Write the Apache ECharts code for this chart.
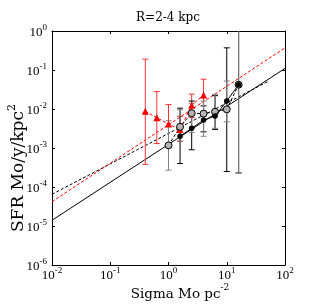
<!DOCTYPE html>
<html><head><meta charset="utf-8">
<script src="https://cdn.jsdelivr.net/npm/echarts@6/dist/echarts.min.js"></script>
<style>html,body{margin:0;padding:0;background:#fff}#c{width:327px;height:307px}</style>
</head><body><div id="c"></div>
<script>
// ---- data ----
const titleText = 'R=2-4 kpc';
const xTickExp = [-2, -1, 0, 1, 2];
const yTickExp = [-6, -5, -4, -3, -2, -1, 0];

const xRed    = [0.4, 0.63, 1.0, 1.58, 2.5, 4.0];
const yRed    = [0.0087, 0.0060, 0.0041, 0.0030, 0.0125, 0.023];
const lowRed  = [3.8e-4, 1.3e-3, 1.2e-3, 1.5e-3, 6.0e-3, 8.0e-3];
const highRed = [0.19, 0.028, 0.013, 0.0065, 0.024, 0.058];

const xBlack    = [1.58, 2.5, 4.0, 6.3, 10, 16];
const yBlack    = [0.0020, 0.0032, 0.0052, 0.0066, 0.016, 0.042];
const lowBlack  = [4.0e-4, 9.0e-4, 2.6e-3, 3.0e-3, 2.5e-4, 2.3e-4];
const highBlack = [0.0105, 0.016, 0.012, 0.022, 0.37, 2];

const xGray    = [1.0, 1.58, 2.5, 4.0, 6.3, 10, 16];
const yGray    = [0.00117, 0.0035, 0.0078, 0.0076, 0.0085, 0.0098, 0.042];
const lowGray  = [2.7e-4, 1.5e-3, 2.5e-3, 2.0e-3, 3.2e-3, 4.7e-3, 2.3e-4];
const highGray = [0.005, 0.0095, 0.014, 0.016, 0.024, 0.052, 2];

const fitSolidX = [0.01, 100];
const fitSolidY = [1.4e-5, 0.11];
const fitDashBlackX = [0.01, 50];
const fitDashBlackY = [6.5e-5, 0.05];
const fitDashRedX = [0.01, 100];
const fitDashRedY = [4.2e-5, 0.37];

// ---- helpers ----
function pairs(xs, ys) { return xs.map((x, i) => [x, ys[i]]); }
function bars(xs, lo, hi) { return xs.map((x, i) => [x, lo[i], hi[i]]); }

const serif = '"DejaVu Serif", serif';
const tickFont = '"Liberation Serif", serif';
const rich = {
  b: { fontFamily: tickFont, fontSize: 13, lineHeight: 16, verticalAlign: 'bottom', color: '#000' },
  s: { fontFamily: tickFont, fontSize: 9, lineHeight: 8, verticalAlign: 'top', color: '#000' }
};
function expLabel(v) { const e = Math.round(Math.log10(v)); return '{b|10}{s|' + e + '}'; }

function errRender(color, cap) {
  return function (params, api) {
    const x = api.value(0), lo = api.value(1), hi = api.value(2);
    const p1 = api.coord([x, lo]), p2 = api.coord([x, hi]);
    const cs = params.coordSys;
    const top = cs.y, bot = cs.y + cs.height;
    const yHi = Math.max(p2[1], top), yLo = Math.min(p1[1], bot);
    const st = { stroke: color, lineWidth: 1 };
    const ch = [{ type: 'line', shape: { x1: p1[0], y1: yLo, x2: p1[0], y2: yHi }, style: st }];
    if (p2[1] >= top) ch.push({ type: 'line', shape: { x1: p1[0] - cap, y1: p2[1], x2: p1[0] + cap, y2: p2[1] }, style: st });
    if (p1[1] <= bot) ch.push({ type: 'line', shape: { x1: p1[0] - cap, y1: p1[1], x2: p1[0] + cap, y2: p1[1] }, style: st });
    return { type: 'group', children: ch };
  };
}

function axisCommon(extra) {
  return Object.assign({
    type: 'log', logBase: 10, interval: 1,
    axisLine: { show: true, onZero: false, lineStyle: { color: '#000', width: 1 } },
    axisTick: { show: true, inside: true, length: 3, lineStyle: { color: '#000' } },
    minorTick: { show: false },
    splitLine: { show: false }
  }, extra);
}

const chart = echarts.init(document.getElementById('c'));
chart.setOption({
  animation: false,
  backgroundColor: '#fff',
  title: {
    text: titleText, left: 168, top: 12, textAlign: 'center', padding: 0,
    textStyle: { fontFamily: serif, fontSize: 12, fontWeight: 'normal', color: '#000' }
  },
  grid: { left: 52, right: 42, top: 31, bottom: 42, containLabel: false },
  xAxis: [
    axisCommon({ min: Math.pow(10, xTickExp[0]), max: Math.pow(10, xTickExp[xTickExp.length - 1]), position: 'bottom',
      axisLabel: { formatter: expLabel, rich: rich, margin: 1 } }),
    axisCommon({ min: Math.pow(10, xTickExp[0]), max: Math.pow(10, xTickExp[xTickExp.length - 1]), position: 'top',
      axisLabel: { show: false } })
  ],
  yAxis: [
    axisCommon({ min: Math.pow(10, yTickExp[0]), max: Math.pow(10, yTickExp[yTickExp.length - 1]), position: 'left',
      axisLabel: { formatter: expLabel, rich: rich, margin: 5 } }),
    axisCommon({ min: Math.pow(10, yTickExp[0]), max: Math.pow(10, yTickExp[yTickExp.length - 1]), position: 'right',
      axisLabel: { show: false } })
  ],
  graphic: [
    { type: 'text', position: [180, 292], style: {
        text: '{a|Sigma Mo pc}{s|-2}', x: 0, y: 0, align: 'center', verticalAlign: 'middle',
        rich: {
          a: { fontFamily: serif, fontSize: 13.5, lineHeight: 18, verticalAlign: 'bottom', color: '#000' },
          s: { fontFamily: serif, fontSize: 9, lineHeight: 9, verticalAlign: 'top', color: '#000' }
        } } },
    { type: 'text', position: [17, 168], rotation: Math.PI / 2, style: {
        text: '{a|SFR Mo/y/kpc}{s|2}', x: 0, y: 0, align: 'center', verticalAlign: 'middle',
        rich: {
          a: { fontFamily: serif, fontSize: 17, lineHeight: 21, verticalAlign: 'bottom', color: '#000' },
          s: { fontFamily: serif, fontSize: 11, lineHeight: 11, verticalAlign: 'top', color: '#000' }
        } } }
  ],
  series: [
    { type: 'line', data: pairs(fitSolidX, fitSolidY), showSymbol: false, symbol: 'none', silent: true, z: 1,
      lineStyle: { color: '#000', width: 1 } },
    { type: 'line', data: pairs(fitDashBlackX, fitDashBlackY), showSymbol: false, symbol: 'none', silent: true, z: 1,
      lineStyle: { color: '#000', width: 1, type: [3, 2] } },
    { type: 'line', data: pairs(fitDashRedX, fitDashRedY), showSymbol: false, symbol: 'none', silent: true, z: 1,
      lineStyle: { color: '#ff0000', width: 1, type: [3, 2] } },

    { type: 'custom', data: bars(xRed, lowRed, highRed), renderItem: errRender('#ff3333', 3), encode: { x: 0, y: [1, 2] }, z: 2 },
    { type: 'custom', data: bars(xBlack, lowBlack, highBlack), renderItem: errRender('#000', 3), encode: { x: 0, y: [1, 2] }, z: 2 },
    { type: 'custom', data: bars(xGray, lowGray, highGray), renderItem: errRender('#808080', 3), encode: { x: 0, y: [1, 2] }, z: 3 },

    { type: 'line', data: pairs(xRed, yRed), symbol: 'triangle', symbolSize: 7, z: 4,
      itemStyle: { color: '#ff0000' }, lineStyle: { color: '#ff0000', width: 1, type: [3, 2] } },
    { type: 'line', data: pairs(xGray, yGray), symbol: 'circle', symbolSize: 7, z: 4,
      itemStyle: { color: '#b4b4b4', borderColor: '#000', borderWidth: 1 }, lineStyle: { color: '#000', width: 1, type: [3, 2] } },
    { type: 'line', data: pairs(xBlack, yBlack), symbol: 'circle', symbolSize: 5.5, z: 5,
      itemStyle: { color: '#000' }, lineStyle: { color: '#000', width: 1 } }
  ]
});
</script>
</body></html>
